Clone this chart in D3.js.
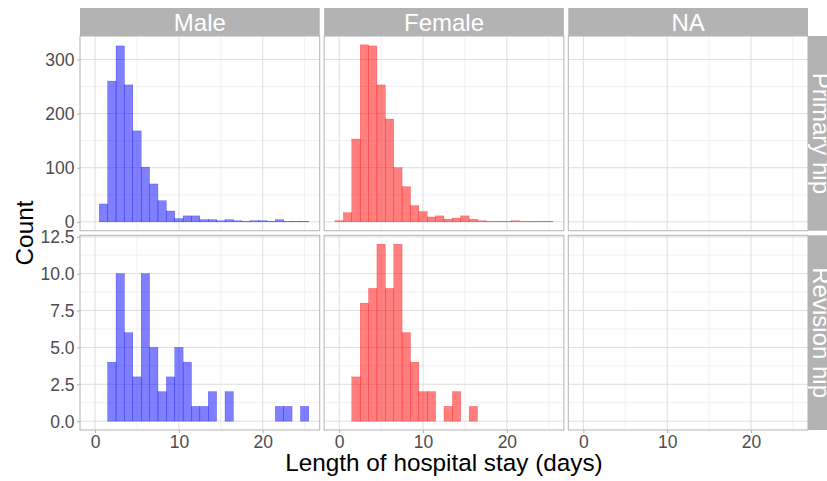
<!DOCTYPE html>
<html>
<head>
<meta charset="utf-8">
<script src="https://cdn.jsdelivr.net/npm/d3@7"></script>
<style>
  html, body { margin: 0; padding: 0; background: #fff; }
  svg { display: block; font-family: "Liberation Sans", Arial, sans-serif; }
</style>
</head>
<body>
<svg id="chart" width="827" height="481"></svg>
<script>
// Length of stay bins (days, bin centres, width 1 day)
const binCentres = [0, 1, 2, 3, 4, 5, 6, 7, 8, 9, 10, 11, 12, 13, 14, 15, 16, 17, 18, 19, 20, 21, 22, 23, 24, 25];

// Counts per bin for each panel
const malePrimary     = [0, 33, 260, 325, 253, 168, 101, 70, 39, 20, 6, 11, 11, 4, 4, 2, 4, 2, 1, 2, 2, 1, 4, 1, 1, 1];
const femalePrimary   = [2, 17, 153, 327, 325, 253, 190, 100, 65, 30, 19, 9, 11, 5, 7, 11, 5, 2, 1, 1, 1, 2, 1, 1, 1, 1];
const maleRevision    = [0, 0, 4, 10, 6, 3, 10, 5, 2, 3, 5, 4, 1, 1, 2, 0, 2, 0, 0, 0, 0, 0, 1, 1, 0, 1];
const femaleRevision  = [0, 0, 3, 8, 9, 12, 9, 12, 6, 4, 2, 2, 0, 1, 2, 0, 1, 0, 0, 0, 0, 0, 0, 0, 0, 0];

// Facet labels
const columnLabels = ["Male", "Female", "NA"];
const rowLabels = ["Primary hip", "Revision hip"];
const columnColours = ["blue", "red", "grey"];

// Axis ticks
const xTicks = [0, 10, 20];
const xGrid = [0, 5, 10, 15, 20, 25];
const yTicksTop = [0, 100, 200, 300];
const yMinorTop = [50, 150, 250];
const yTicksBottom = [0, 2.5, 5, 7.5, 10, 12.5];
const yMinorBottom = [1.25, 3.75, 6.25, 8.75, 11.25];

const panelData = [
  [malePrimary, femalePrimary, null],
  [maleRevision, femaleRevision, null]
];

const svg = d3.select("#chart");

// Layout
const left = 80, right = 808, colGap = 4.4;
const stripTop = 8, stripH = 28, bottom = 430, rowGap = 4.6;
const panelW = (right - left - 2 * colGap) / 3;
const panelTop = stripTop + stripH;
const panelH = (bottom - panelTop - rowGap) / 2;
const colX = [0, 1, 2].map(i => left + i * (panelW + colGap));
const rowY = [0, 1].map(i => panelTop + i * (panelH + rowGap));

const binW = 1;
const xMin = binCentres[0] - binW / 2, xMax = binCentres[binCentres.length - 1] + binW / 2;
const xPad = (xMax - xMin) * 0.05;

const maxTop = d3.max([malePrimary, femalePrimary], a => d3.max(a));
const maxBottom = d3.max([maleRevision, femaleRevision], a => d3.max(a));
const yScales = [
  d3.scaleLinear().domain([-0.05 * maxTop, maxTop * 1.05]).range([rowY[0] + panelH, rowY[0]]),
  d3.scaleLinear().domain([-0.05 * maxBottom, maxBottom * 1.05]).range([rowY[1] + panelH, rowY[1]])
];
const xScales = colX.map(x0 =>
  d3.scaleLinear().domain([xMin - xPad, xMax + xPad]).range([x0, x0 + panelW]));

const yMajor = [yTicksTop, yTicksBottom];
const yMinor = [yMinorTop, yMinorBottom];

const gridCol = "#DEDEDE", minorCol = "#EBEBEB", borderCol = "#B3B3B3";

for (let r = 0; r < 2; r++) {
  for (let c = 0; c < 3; c++) {
    const x = xScales[c], y = yScales[r];
    const g = svg.append("g");
    // background
    g.append("rect").attr("x", colX[c]).attr("y", rowY[r])
      .attr("width", panelW).attr("height", panelH).attr("fill", "#fff");
    // minor grid
    g.selectAll(".hmin").data(yMinor[r]).join("line")
      .attr("x1", colX[c]).attr("x2", colX[c] + panelW)
      .attr("y1", d => y(d)).attr("y2", d => y(d))
      .attr("stroke", minorCol).attr("stroke-width", 0.7);
    g.selectAll(".vmin").data(xGrid.filter(d => !xTicks.includes(d))).join("line")
      .attr("y1", rowY[r]).attr("y2", rowY[r] + panelH)
      .attr("x1", d => x(d)).attr("x2", d => x(d))
      .attr("stroke", minorCol).attr("stroke-width", 0.7);
    // major grid
    g.selectAll(".hmaj").data(yMajor[r]).join("line")
      .attr("x1", colX[c]).attr("x2", colX[c] + panelW)
      .attr("y1", d => y(d)).attr("y2", d => y(d))
      .attr("stroke", gridCol).attr("stroke-width", 1);
    g.selectAll(".vmaj").data(xTicks).join("line")
      .attr("y1", rowY[r]).attr("y2", rowY[r] + panelH)
      .attr("x1", d => x(d)).attr("x2", d => x(d))
      .attr("stroke", gridCol).attr("stroke-width", 1);

    // histogram bars
    const counts = panelData[r][c];
    if (counts) {
      const col = columnColours[c];
      g.selectAll(".bar").data(binCentres.map((b, i) => ({ b, n: counts[i] }))).join("rect")
        .attr("x", d => x(d.b - binW / 2))
        .attr("width", d => x(d.b + binW / 2) - x(d.b - binW / 2))
        .attr("y", d => y(d.n))
        .attr("height", d => y(0) - y(d.n))
        .attr("fill", col).attr("fill-opacity", 0.5)
        .attr("stroke", col).attr("stroke-opacity", 0.55).attr("stroke-width", 0.4);
    }

    // panel border
    g.append("rect").attr("x", colX[c]).attr("y", rowY[r])
      .attr("width", panelW).attr("height", panelH)
      .attr("fill", "none").attr("stroke", borderCol).attr("stroke-width", 1);
  }
}

// Column strips
columnLabels.forEach((lab, c) => {
  svg.append("rect").attr("x", colX[c]).attr("y", stripTop)
    .attr("width", panelW).attr("height", stripH).attr("fill", "#B3B3B3");
  svg.append("text").attr("x", colX[c] + panelW / 2).attr("y", stripTop + stripH / 2 + 8.6)
    .attr("text-anchor", "middle").attr("fill", "#fff").attr("font-size", 24).text(lab);
});

// Row strips
rowLabels.forEach((lab, r) => {
  svg.append("rect").attr("x", right).attr("y", rowY[r])
    .attr("width", stripH).attr("height", panelH).attr("fill", "#B3B3B3");
  const cx = right + stripH / 2, cy = rowY[r] + panelH / 2;
  svg.append("text").attr("transform", `translate(${cx - 8.6},${cy}) rotate(90)`)
    .attr("text-anchor", "middle").attr("fill", "#fff").attr("font-size", 24).text(lab);
});

// Y axes
const fmtTop = d3.format("d"), fmtBottom = d3.format(".1f");
[0, 1].forEach(r => {
  const ax = d3.axisLeft(yScales[r]).tickValues(yMajor[r])
    .tickFormat(r === 0 ? fmtTop : fmtBottom).tickSize(3).tickPadding(2.5);
  const g = svg.append("g").attr("transform", `translate(${left},0)`).call(ax);
  g.select(".domain").remove();
  g.selectAll(".tick line").attr("stroke", borderCol).attr("stroke-width", 1);
  g.selectAll(".tick text").attr("fill", "#4D4D4D").attr("font-size", 17.5)
    .attr("font-family", "Liberation Sans, Arial, sans-serif").attr("dy", "0.35em");
});

// X axes
[0, 1, 2].forEach(c => {
  const ax = d3.axisBottom(xScales[c]).tickValues(xTicks).tickFormat(d3.format("d"))
    .tickSize(3).tickPadding(3);
  const g = svg.append("g").attr("transform", `translate(0,${bottom})`).call(ax);
  g.select(".domain").remove();
  g.selectAll(".tick line").attr("stroke", borderCol).attr("stroke-width", 1);
  g.selectAll(".tick text").attr("fill", "#4D4D4D").attr("font-size", 17.5)
    .attr("font-family", "Liberation Sans, Arial, sans-serif");
});

// Axis titles
svg.append("text").attr("x", (left + right) / 2).attr("y", 471)
  .attr("text-anchor", "middle").attr("font-size", 24.3).attr("fill", "#000")
  .text("Length of hospital stay (days)");
svg.append("text").attr("transform", `translate(33,${(panelTop + bottom) / 2}) rotate(-90)`)
  .attr("text-anchor", "middle").attr("font-size", 24.3).attr("fill", "#000")
  .text("Count");
</script>
</body>
</html>
